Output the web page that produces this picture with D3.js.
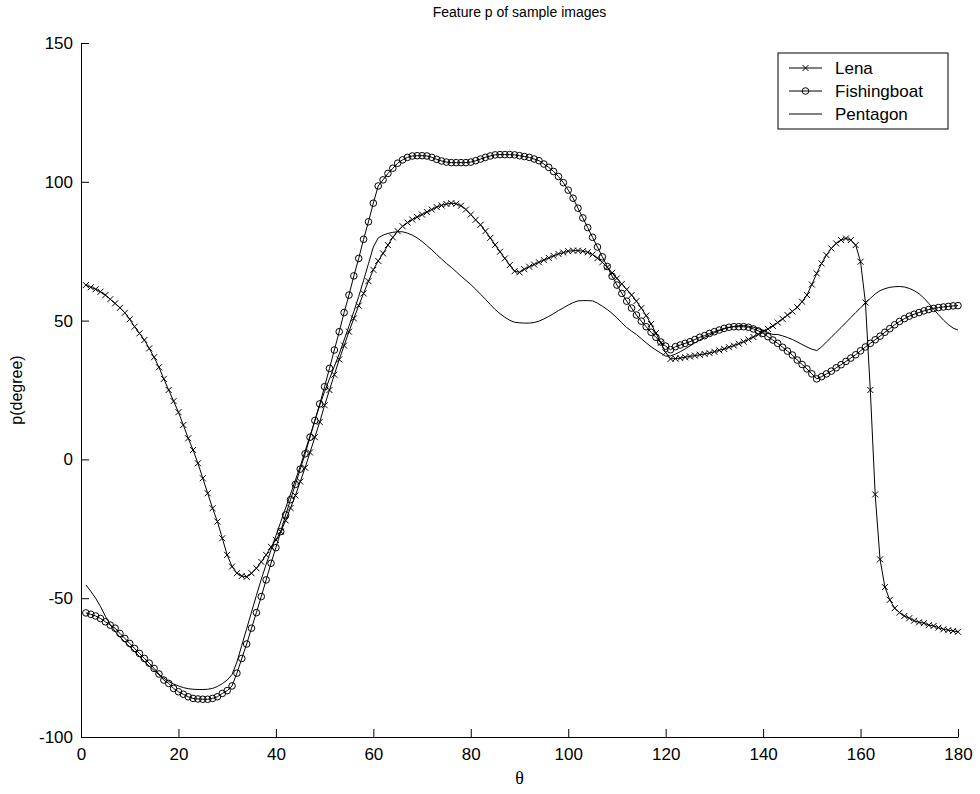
<!DOCTYPE html>
<html>
<head>
<meta charset="utf-8">
<script src="https://cdn.jsdelivr.net/npm/d3@7"></script>
<style>
    body { margin: 0; background: #fff; }
    svg text { font-family: Arial, "Liberation Sans", sans-serif; fill: #000; }
    .axis path, .axis line { stroke: #000; }
    .axis text { font-size: 17px; }
</style>
</head>
<body>
<svg id="svg"></svg>
<script>
// sample angles, 1..180 degrees
const theta = d3.range(1, 181);

const lena = [
    62.8, 62.0, 61.3, 60.4, 59.2, 57.7, 56.2, 54.6, 52.8, 50.5,
    47.8, 45.4, 43.0, 40.0, 36.8, 33.2, 29.0, 25.0, 21.0, 17.0,
    12.4, 7.6, 3.4, -1.4, -6.8, -12.2, -17.6, -22.4, -28.4, -34.4,
    -38.6, -41.0, -42.0, -42.3, -41.0, -39.2, -36.9, -34.4, -31.5, -29.0,
    -26.0, -22.0, -17.5, -13.0, -8.0, -3.0, 2.5, 8.0, 13.5, 19.5,
    25.0, 30.5, 36.0, 41.0, 46.0, 50.8, 55.4, 59.8, 64.2, 68.3,
    71.5, 74.2, 77.2, 80.0, 82.2, 84.0, 85.3, 86.4, 87.3, 88.2,
    89.1, 90.0, 90.9, 91.5, 92.0, 92.3, 92.1, 91.4, 90.0, 88.2,
    86.3, 84.5, 82.2, 79.8, 77.3, 74.8, 72.4, 70.0, 67.8, 67.4,
    68.5, 69.4, 70.2, 71.0, 71.8, 72.6, 73.3, 74.0, 74.5, 75.0,
    75.2, 75.2, 75.0, 74.6, 73.8, 72.5, 71.0, 69.2, 67.2, 65.2,
    63.2, 61.2, 59.2, 57.0, 54.5, 51.8, 48.8, 45.5, 42.0, 38.5,
    36.2, 36.3, 36.5, 36.8, 37.1, 37.4, 37.7, 38.0, 38.3, 38.8,
    39.3, 39.8, 40.4, 41.0, 41.7, 42.4, 43.2, 44.1, 45.0, 46.0,
    47.0, 48.1, 49.3, 50.6, 52.0, 53.3, 54.8, 56.8, 59.2, 63.0,
    67.0, 70.6, 73.6, 76.0, 77.8, 79.0, 79.6, 79.0, 77.2, 71.2,
    56.5, 25.0, -12.6, -36.0, -46.0, -50.6, -53.6, -55.2, -56.4, -57.2,
    -58.1, -58.7, -59.0, -59.7, -60.0, -60.6, -61.2, -61.5, -61.8, -62.1
];

const fishingboat = [
    -55.3, -55.8, -56.4, -57.3, -58.5, -59.7, -60.8, -62.7, -64.5, -66.3,
    -68.1, -69.9, -71.7, -73.4, -75.3, -77.3, -79.5, -80.7, -82.5, -83.7,
    -84.6, -85.5, -86.1, -86.3, -86.4, -86.4, -86.1, -85.5, -84.3, -83.3,
    -81.6, -77.0, -71.7, -66.5, -60.8, -55.2, -49.4, -43.4, -37.4, -31.8,
    -26.0, -20.0, -14.5, -9.0, -3.5, 2.0, 8.0, 14.0, 20.0, 26.2,
    32.8, 39.4, 46.0, 52.9, 59.2, 66.1, 72.4, 79.3, 85.6, 92.3,
    98.5, 100.7, 103.0, 104.9, 106.7, 107.9, 108.8, 109.3, 109.4, 109.4,
    109.3, 108.8, 108.1, 107.5, 107.1, 106.9, 106.9, 106.9, 106.9, 107.1,
    107.6, 108.2, 108.8, 109.3, 109.7, 109.8, 109.8, 109.8, 109.7, 109.4,
    109.1, 108.8, 108.2, 107.6, 106.4, 105.2, 103.7, 101.9, 99.7, 97.0,
    94.1, 90.5, 87.0, 83.5, 80.0, 76.5, 73.0, 69.5, 66.0, 62.8,
    59.8, 57.0, 54.5, 52.0, 49.8, 47.8, 45.8, 44.0, 42.3, 40.8,
    39.5, 40.6, 41.2, 41.8, 42.4, 43.2, 44.0, 44.6, 45.4, 46.0,
    46.6, 47.2, 47.6, 47.8, 47.8, 47.8, 47.6, 47.0, 46.3, 45.4,
    44.2, 43.0, 41.8, 40.4, 39.0, 37.6, 35.8, 34.2, 32.6, 30.8,
    29.0, 29.8, 30.8, 31.8, 33.0, 34.1, 35.3, 36.5, 37.7, 39.1,
    40.5, 41.8, 43.1, 44.4, 45.8, 47.1, 48.5, 49.7, 50.7, 51.6,
    52.3, 52.9, 53.5, 54.0, 54.4, 54.7, 54.9, 55.1, 55.3, 55.4
];

const pentagon = [
    -45.2, -47.5, -50.0, -53.0, -56.5, -59.5, -62.0, -64.0, -65.8, -67.5,
    -69.2, -71.0, -72.8, -74.5, -76.0, -77.6, -78.8, -80.0, -80.9, -81.6,
    -82.2, -82.6, -82.8, -82.9, -82.9, -82.8, -82.5, -81.8, -80.8, -79.5,
    -77.5, -73.0, -67.0, -61.0, -55.0, -49.0, -43.2, -37.8, -32.6, -27.5,
    -22.5, -17.5, -12.5, -7.5, -2.5, 3.0, 8.5, 14.0, 19.5, 24.5,
    29.0, 33.5, 38.0, 43.0, 48.0, 53.3, 58.7, 64.5, 70.5, 76.5,
    79.8, 80.8, 81.4, 81.8, 82.0, 82.0, 81.5, 80.8, 79.8, 78.5,
    77.0, 75.5, 73.8, 72.2, 70.6, 69.2, 67.6, 66.0, 64.5, 63.0,
    61.3, 59.5, 57.7, 55.8, 54.0, 52.5, 51.2, 50.1, 49.4, 49.2,
    49.1, 49.1, 49.3, 49.8, 50.6, 51.5, 52.5, 53.6, 54.6, 55.6,
    56.5, 57.1, 57.2, 57.2, 57.1, 56.3, 55.2, 54.0, 52.6, 51.0,
    49.2, 47.5, 46.2, 45.0, 43.5, 42.0, 40.6, 39.4, 38.3, 37.2,
    37.3, 37.9, 38.8, 39.8, 40.9, 42.0, 43.0, 44.0, 44.8, 45.6,
    46.4, 47.0, 47.5, 47.9, 48.2, 48.2, 48.0, 47.6, 47.1, 46.5,
    45.7, 45.0, 45.0, 44.5, 43.9, 43.2, 42.3, 41.4, 40.5, 39.7,
    39.2, 40.5, 42.3, 44.0, 45.8, 47.5, 49.3, 51.1, 52.9, 54.6,
    56.3, 58.0, 59.6, 60.8, 61.5, 62.0, 62.2, 62.3, 62.1, 61.6,
    60.8, 59.7, 58.1, 56.2, 54.1, 52.1, 50.2, 48.6, 47.3, 46.6
];

const seriesNames = ['Lena', 'Fishingboat', 'Pentagon'];
const seriesMarkers = ['x', 'o', 'none'];
const xTicks = [0, 20, 40, 60, 80, 100, 120, 140, 160, 180];
const yTicks = [-100, -50, 0, 50, 100, 150];

const width = 980, height = 794;
const margin = {top: 43, left: 81, right: 22, bottom: 57};
const innerW = width - margin.left - margin.right;
const innerH = height - margin.top - margin.bottom;

const svg = d3.select('#svg')
    .attr('width', width)
    .attr('height', height);

const main = svg.append('g')
    .attr('transform', 'translate(' + margin.left + ',' + margin.top + ')');

const xScale = d3.scaleLinear().domain([0, 180]).range([0, innerW]);
const yScale = d3.scaleLinear().domain([-100, 150]).range([innerH, 0]);

// axes, ticks pointing inward like matlab, plain hyphen minus
const plain = d => String(d);
const xAxis = d3.axisBottom(xScale).tickValues(xTicks).tickFormat(plain)
    .tickSize(-8).tickPadding(8).tickSizeOuter(0);
const yAxis = d3.axisLeft(yScale).tickValues(yTicks).tickFormat(plain)
    .tickSize(-8).tickPadding(8).tickSizeOuter(0);

main.append('g')
    .attr('class', 'axis axis-x')
    .attr('transform', 'translate(0,' + innerH + ')')
    .call(xAxis)
    .call(g => g.selectAll('text').attr('dy', '0.9em'));

main.append('g')
    .attr('class', 'axis axis-y')
    .call(yAxis);

main.selectAll('.axis text').attr('fill', '#000');

const series = [lena, fishingboat, pentagon].map((vals, i) => ({
    name: seriesNames[i],
    marker: seriesMarkers[i],
    points: vals.map((v, j) => ({x: theta[j], y: v}))
}));

const line = d3.line()
    .x(d => xScale(d.x))
    .y(d => yScale(d.y));

const lines = main.append('g');

series.forEach(s => {
    lines.append('path')
        .datum(s.points)
        .attr('fill', 'none')
        .attr('stroke', '#000')
        .attr('stroke-width', 1)
        .attr('d', line);
});

function drawMarker(g, kind, cx, cy) {
    if (kind === 'x') {
        const r = 3;
        g.append('path')
            .attr('d', 'M' + (cx - r) + ',' + (cy - r) + 'L' + (cx + r) + ',' + (cy + r) +
                       'M' + (cx - r) + ',' + (cy + r) + 'L' + (cx + r) + ',' + (cy - r))
            .attr('stroke', '#000')
            .attr('stroke-width', 1)
            .attr('fill', 'none');
    } else if (kind === 'o') {
        g.append('circle')
            .attr('cx', cx)
            .attr('cy', cy)
            .attr('r', 3.3)
            .attr('stroke', '#000')
            .attr('stroke-width', 1)
            .attr('fill', 'none');
    }
}

const markers = main.append('g');
series.forEach(s => {
    if (s.marker === 'none') return;
    s.points.forEach(d => drawMarker(markers, s.marker, xScale(d.x), yScale(d.y)));
});

// title and labels
svg.append('text')
    .attr('x', margin.left + innerW / 2)
    .attr('y', 17)
    .attr('text-anchor', 'middle')
    .style('font-size', '14px')
    .text('Feature p of sample images');

svg.append('text')
    .attr('transform', 'translate(22,' + (margin.top + innerH / 2) + ') rotate(-90)')
    .attr('text-anchor', 'middle')
    .style('font-size', '16px')
    .text('p(degree)');

svg.append('text')
    .attr('x', margin.left + innerW / 2)
    .attr('y', 784)
    .attr('text-anchor', 'middle')
    .style('font-family', '"Times New Roman", "Liberation Serif", serif')
    .style('font-size', '18px')
    .text('θ');

// legend
const legend = svg.append('g')
    .attr('transform', 'translate(778,53)');

legend.append('rect')
    .attr('width', 170)
    .attr('height', 76)
    .attr('fill', '#fff')
    .attr('stroke', '#000')
    .attr('stroke-width', 1);

series.forEach((s, i) => {
    const y = 15 + i * 23;
    legend.append('line')
        .attr('x1', 11).attr('x2', 44)
        .attr('y1', y).attr('y2', y)
        .attr('stroke', '#000');
    drawMarker(legend, s.marker, 27.5, y);
    legend.append('text')
        .attr('x', 57)
        .attr('y', y + 6)
        .style('font-size', '17px')
        .text(s.name);
});
</script>
</body>
</html>
